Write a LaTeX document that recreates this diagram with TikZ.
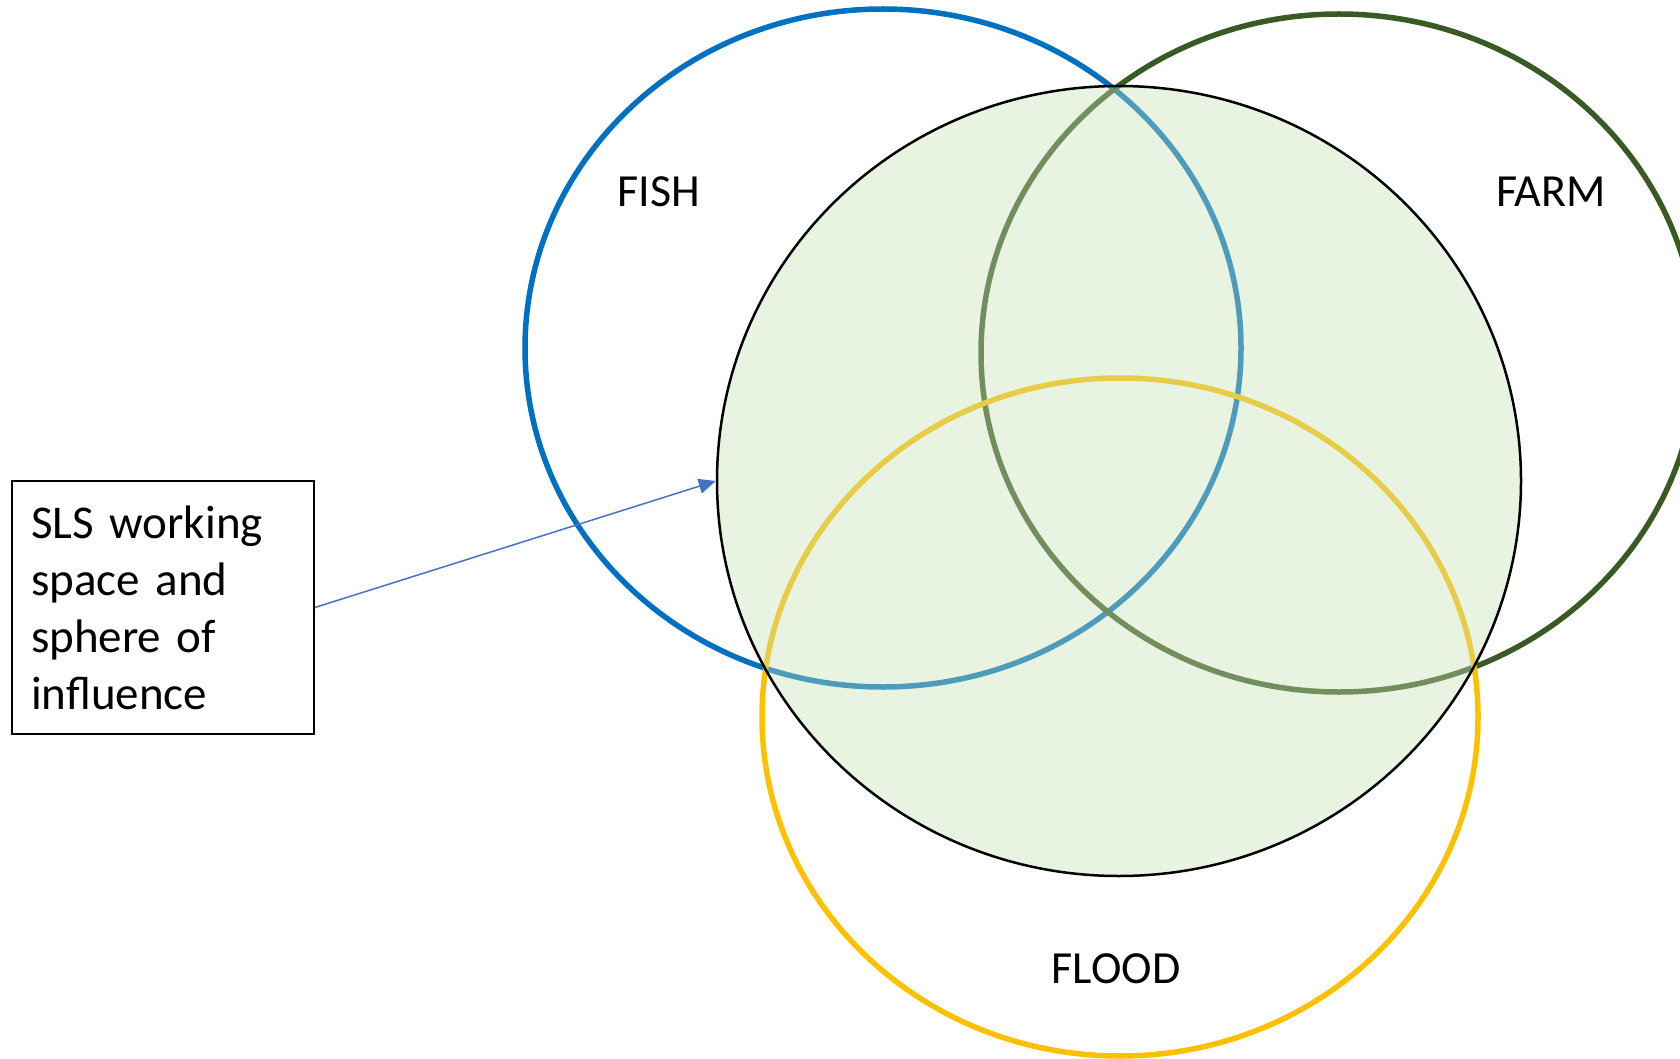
\documentclass[tikz,border=0pt]{standalone}
\usepackage{fontspec}
\setmainfont{Carlito}
\usetikzlibrary{shapes.geometric,arrows.meta}
\definecolor{fishblue}{HTML}{0070C0}
\definecolor{farmgreen}{HTML}{3A5A24}
\definecolor{floodyellow}{HTML}{FFC000}
\definecolor{slsfill}{HTML}{C5E0B4}
\definecolor{arrowblue}{HTML}{4472C4}
\tikzset{
  ring/.style={ellipse, inner sep=0pt, line width=5.5pt, minimum width=716pt, minimum height=678pt},
  lbl/.style={font=\fontsize{46}{55}\selectfont, inner sep=0pt},
}
\begin{document}
\begin{tikzpicture}[x=1pt,y=-1pt]
\useasboundingbox (0,0) rectangle (1680,1059);
\node[ring, draw=fishblue] (fish) at (883,348) {};
\node[ring, draw=farmgreen] (farm) at (1339,353) {};
\node[ring, draw=floodyellow] (flood) at (1120,717) {};
\node[ellipse, inner sep=0pt, minimum width=804pt, minimum height=790pt,
      draw=black, line width=2.5pt, fill=slsfill, fill opacity=0.4, draw opacity=1] (sls) at (1119,481) {};
\node[lbl] (fishlbl) at (659,192) {FISH};
\node[lbl] (farmlbl) at (1551,192) {FARM};
\node[lbl] (floodlbl) at (1116,969) {FLOOD};
\node[draw=black, line width=1.8pt, minimum width=302pt, minimum height=253pt,
      text width=264pt, align=left, inner sep=0pt,
      font=\fontsize{47}{57}\selectfont] (box) at (163,607.5)
  {SLS working\\space and\\sphere of\\influence};
\draw[arrowblue, line width=1.5pt, -{Triangle[length=17pt,width=15pt]}] (box.east) -- (sls.west);
\end{tikzpicture}
\end{document}
